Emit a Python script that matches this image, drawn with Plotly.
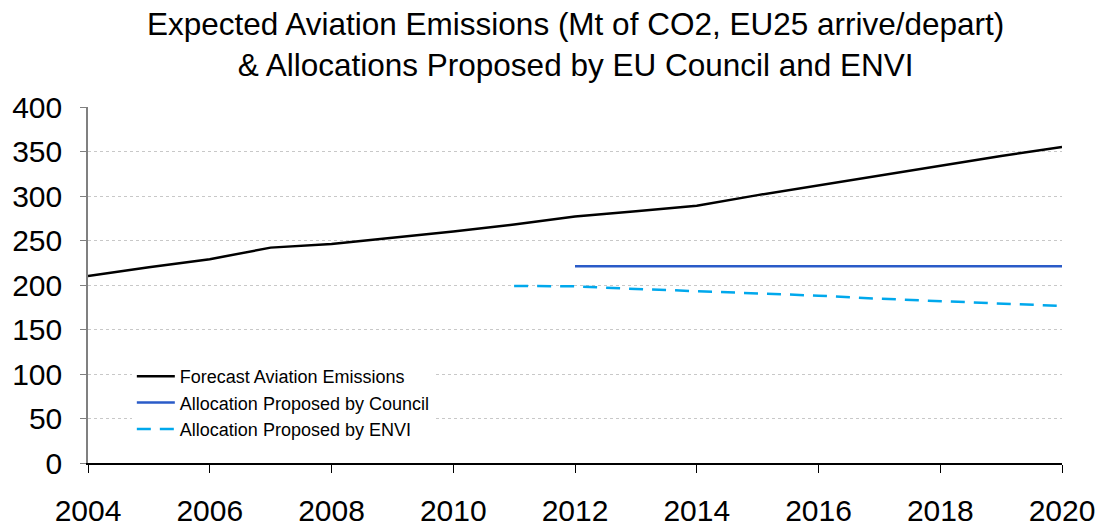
import plotly.graph_objects as go

years_forecast = [2004, 2005, 2006, 2007, 2008, 2009, 2010, 2011, 2012, 2013, 2014, 2015, 2016, 2017, 2018, 2019, 2020]
forecast = [210, 220, 229, 242, 246, 253, 260, 268, 277, 283, 289, 301, 312, 323, 334, 345, 355]

years_council = [2012, 2013, 2014, 2015, 2016, 2017, 2018, 2019, 2020]
council = [221, 221, 221, 221, 221, 221, 221, 221, 221]

years_envi = [2011, 2012, 2013, 2014, 2015, 2016, 2017, 2018, 2019, 2020]
envi = [199, 198.5, 195.6, 193, 191, 188, 184.6, 182, 179.4, 176.4]

x_ticks = [2004, 2006, 2008, 2010, 2012, 2014, 2016, 2018, 2020]

title_text = ("Expected Aviation Emissions (Mt of CO2, EU25 arrive/depart)<br>"
              "& Allocations Proposed by EU Council and ENVI")

FONT = "Liberation Sans, Arial, sans-serif"

fig = go.Figure()
fig.add_trace(go.Scatter(x=years_forecast, y=forecast, mode="lines",
                         name="Forecast Aviation Emissions",
                         line=dict(color="#000000", width=2.5)))
fig.add_trace(go.Scatter(x=years_council, y=council, mode="lines",
                         name="Allocation Proposed by Council",
                         line=dict(color="#2a5bc8", width=2.5)))
fig.add_trace(go.Scatter(x=years_envi, y=envi, mode="lines",
                         name="Allocation Proposed by ENVI",
                         line=dict(color="#00a8ec", width=2.5, dash="14px,9px")))

fig.add_annotation(text=title_text, xref="paper", yref="paper",
                   x=0.5, y=1.29, xanchor="center", yanchor="top",
                   showarrow=False, align="center",
                   font=dict(size=31.5, family=FONT, color="#000000"))

fig.update_layout(
    width=1102, height=526,
    margin=dict(l=88, r=40, t=107, b=63),
    paper_bgcolor="white", plot_bgcolor="white",
    font=dict(family=FONT, color="#000000"),
    showlegend=True,
    legend=dict(x=0.045, y=0.295, xanchor="left", yanchor="top",
                bgcolor="white", font=dict(size=18, family=FONT),
                tracegroupgap=0, itemwidth=38),
    xaxis=dict(range=[2004, 2020], tickvals=x_ticks, ticktext=[str(v) for v in x_ticks],
               showgrid=False, showline=True, linecolor="#000000", linewidth=1.5,
               ticks="outside", ticklen=8, tickcolor="#000000", tickwidth=1,
               tickfont=dict(size=30, family=FONT), ticklabelstandoff=12,
               zeroline=False, fixedrange=True, automargin=False),
    yaxis=dict(range=[0, 400], dtick=50, showgrid=True, gridcolor="#c8c8c8",
               griddash="3px,3px", gridwidth=1,
               showline=True, linecolor="#808080", linewidth=1.5,
               ticks="outside", ticklen=6, tickcolor="#808080",
               tickfont=dict(size=30, family=FONT), ticklabelstandoff=12,
               zeroline=False, fixedrange=True, automargin=False),
)

fig.write_html("out.html")
